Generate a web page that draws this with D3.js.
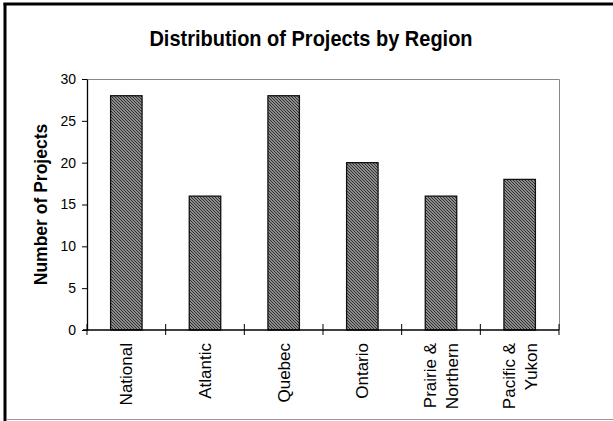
<!DOCTYPE html>
<html>
<head>
<meta charset="utf-8">
<script src="https://cdn.jsdelivr.net/npm/d3@7"></script>
<style>
  body { margin: 0; background: #fff; }
  text { font-family: "Liberation Sans", Arial, sans-serif; }
</style>
</head>
<body>
<div id="chart"></div>
<script>
// data
var regions = ["National", "Atlantic", "Quebec", "Ontario", "Prairie & Northern", "Pacific & Yukon"];
var regionLines = [["National"], ["Atlantic"], ["Quebec"], ["Ontario"], ["Prairie &", "Northern"], ["Pacific &", "Yukon"]];
var projects = [28, 16, 28, 20, 16, 18];
var yTicks = [0, 5, 10, 15, 20, 25, 30];

var W = 613, H = 421;
var pLeft = 87, pRight = 559, pTop = 79, pBottom = 330;

var svg = d3.select("#chart").append("svg")
  .attr("width", W)
  .attr("height", H);

// hatch fill
var defs = svg.append("defs");
var pat = defs.append("pattern")
  .attr("id", "hatch")
  .attr("patternUnits", "userSpaceOnUse")
  .attr("width", 3)
  .attr("height", 3);
pat.append("rect").attr("width", 3).attr("height", 3).attr("fill", "#b4b4b4");
pat.append("path")
  .attr("d", "M0,0L3,3M-1,2L1,4M2,-1L4,1")
  .attr("stroke", "#2a2a2a")
  .attr("stroke-width", 1.1);

// frame
svg.append("line").attr("x1", 5).attr("x2", 5).attr("y1", 3).attr("y2", H)
  .attr("stroke", "#000").attr("stroke-width", 3);
svg.append("line").attr("x1", 3.5).attr("x2", W).attr("y1", 4).attr("y2", 4)
  .attr("stroke", "#000").attr("stroke-width", 3);
svg.append("line").attr("x1", 6).attr("x2", W).attr("y1", 419.5).attr("y2", 419.5)
  .attr("stroke", "#999").attr("stroke-width", 1);

var x = d3.scaleBand()
  .domain(regions)
  .range([pLeft, pRight])
  .paddingInner(0)
  .paddingOuter(0);

var y = d3.scaleLinear()
  .domain([0, 30])
  .range([pBottom, pTop]);

// plot border (grey top and right)
svg.append("path")
  .attr("d", "M" + pLeft + "," + (pTop + 0.5) + "H" + (pRight + 0.5) + "V" + pBottom)
  .attr("fill", "none")
  .attr("stroke", "#888")
  .attr("stroke-width", 1);

// bars
var bw = x.bandwidth() * 0.4;
svg.append("g")
  .selectAll("rect")
  .data(projects)
  .enter().append("rect")
  .attr("x", (d, i) => x(regions[i]) + (x.bandwidth() - bw) / 2)
  .attr("y", d => y(d))
  .attr("width", bw)
  .attr("height", d => pBottom - y(d))
  .attr("fill", "url(#hatch)")
  .attr("stroke", "#111")
  .attr("stroke-width", 1.3);

// y axis
var yAxis = svg.append("g")
  .attr("transform", "translate(" + pLeft + ",0)")
  .call(d3.axisLeft(y).tickValues(yTicks).tickSize(5).tickPadding(6).tickSizeOuter(0));
yAxis.select(".domain").attr("stroke", "#000").attr("stroke-width", 1.3);
yAxis.selectAll(".tick line").attr("stroke", "#000");
yAxis.selectAll(".tick text")
  .style("font-family", "Liberation Sans, Arial, sans-serif")
  .style("font-size", "14px")
  .attr("fill", "#000");

// x axis
var xAxis = svg.append("g")
  .attr("transform", "translate(0," + pBottom + ")");
xAxis.append("line")
  .attr("x1", pLeft - 4).attr("x2", pRight)
  .attr("stroke", "#000").attr("stroke-width", 1.3);
xAxis.selectAll(".xt")
  .data(regions.concat(["end"]))
  .enter().append("line")
  .attr("class", "xt")
  .attr("x1", (d, i) => i < regions.length ? x(d) : pRight)
  .attr("x2", (d, i) => i < regions.length ? x(d) : pRight)
  .attr("y1", -6).attr("y2", 5)
  .attr("stroke", "#000");

var lab = xAxis.selectAll(".xl")
  .data(regionLines)
  .enter().append("text")
  .attr("class", "xl")
  .attr("text-anchor", "end")
  .attr("transform", (d, i) => "translate(" + (x(regions[i]) + x.bandwidth() / 2) + ",13) rotate(-90)")
  .style("font-size", "17px");
lab.selectAll("tspan")
  .data(d => d.map((t, j) => ({ t: t, off: (j - (d.length - 1) / 2) * 22 })))
  .enter().append("tspan")
  .attr("x", 0)
  .attr("y", d => d.off)
  .attr("dy", "0.35em")
  .text(d => d.t);

// title
svg.append("text")
  .attr("transform", "translate(311,46) scale(1,1.12)")
  .attr("text-anchor", "middle")
  .style("font-size", "20px")
  .style("font-weight", "bold")
  .text("Distribution of Projects by Region");

// y label
svg.append("text")
  .attr("transform", "translate(47," + ((pTop + pBottom) / 2) + ") rotate(-90)")
  .attr("text-anchor", "middle")
  .style("font-size", "17.5px")
  .style("font-weight", "bold")
  .text("Number of Projects");
</script>
</body>
</html>
